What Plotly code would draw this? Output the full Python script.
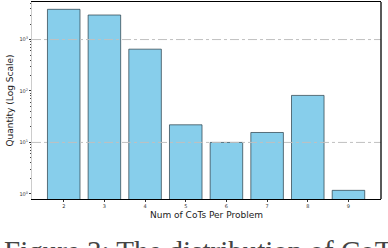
import plotly.graph_objects as go

categories = ["2", "3", "4", "5", "6", "7", "8", "9"]
quantities = [3870, 3000, 650, 22, 10, 15.6, 82, 1.17]

y_tick_vals = [1, 10, 100, 1000]
y_tick_text = ["10<sup>0</sup>", "10<sup>1</sup>", "10<sup>2</sup>", "10<sup>3</sup>"]
grid_vals = [10, 1000]
minor_vals = [m * d for d in [1, 10, 100, 1000] for m in range(2, 10)]

fig = go.Figure()
fig.add_trace(go.Bar(
    x=categories, y=quantities,
    width=0.8,
    marker=dict(color="#87CEEB", line=dict(color="rgba(40,60,70,0.7)", width=1)),
))

shapes = [dict(type="line", xref="paper", x0=0, x1=1, yref="y", y0=g, y1=g,
               line=dict(color="#c0c0c0", width=1, dash="dashdot"), layer="above")
          for g in grid_vals]
shapes.append(dict(type="line", xref="paper", x0=1, x1=1, yref="paper", y0=0, y1=1,
                   line=dict(color="black", width=1.3), layer="above"))

fig.update_layout(
    width=388, height=248,
    margin=dict(l=32, r=7, t=2, b=49),
    paper_bgcolor="white", plot_bgcolor="white",
    showlegend=False,
    shapes=shapes,
    font=dict(family="DejaVu Sans", color="#222"),
    xaxis=dict(
        type="category", range=[-0.78, 7.8],
        showline=True, linecolor="black", linewidth=1.3, mirror=True,
        ticks="outside", ticklen=2, tickcolor="#333",
        tickfont=dict(size=5, color="#333"),
        showgrid=False,
        title=dict(text="Num of CoTs Per Problem", font=dict(size=9, color="#222"), standoff=3),
    ),
    yaxis=dict(
        type="log", range=[-0.1, 3.73],
        tickmode="array", tickvals=y_tick_vals, ticktext=y_tick_text,
        showline=True, linecolor="#cccccc", linewidth=1,
        ticks="outside", ticklen=2, tickcolor="#333",
        tickfont=dict(size=5, color="#333"),
        minor=dict(tickmode="array", tickvals=minor_vals, ticks="outside",
                   ticklen=1.5, tickcolor="#444", showgrid=False),
        showgrid=False, zeroline=False,
        title=dict(text="Quantity (Log Scale)", font=dict(size=9, color="#222"), standoff=4),
    ),
    annotations=[dict(
        text="Figure 3: The distribution of CoTs per problem",
        xref="paper", yref="paper", x=-0.086, y=-0.175,
        xanchor="left", yanchor="top", showarrow=False,
        font=dict(family="Liberation Serif", size=29, color="#444"),
    )],
)

fig.write_html("out.html", config={"displayModeBar": False},
               post_script="document.body.style.margin='0';document.body.style.padding='0';")
